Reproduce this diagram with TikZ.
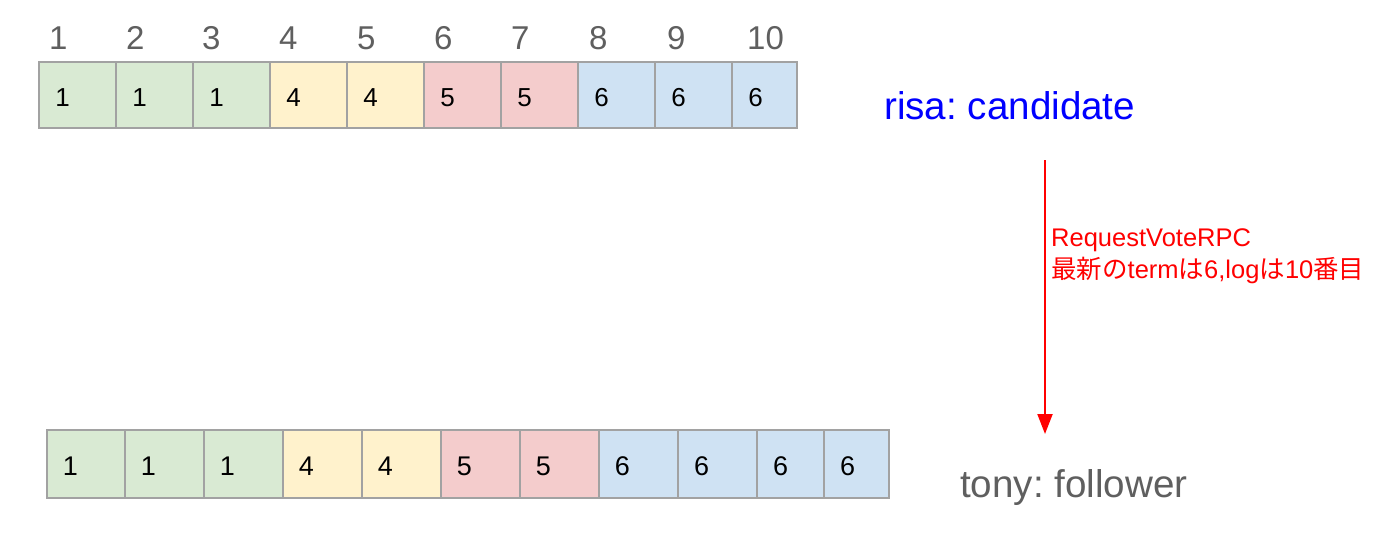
\documentclass[tikz,border=0pt]{standalone}
\usepackage{fontspec}
\setmainfont{Liberation Sans}
\newfontfamily\cjk{Noto Sans CJK JP}
\usetikzlibrary{arrows.meta}
\frenchspacing
\definecolor{cgreen}{HTML}{D9EAD3}
\definecolor{cyellow}{HTML}{FFF2CC}
\definecolor{cred}{HTML}{F4CCCC}
\definecolor{cblue}{HTML}{CFE2F3}
\definecolor{cborder}{HTML}{A2A2A2}
\definecolor{cgray}{HTML}{5F5F5F}
\definecolor{cbluetext}{HTML}{0000FF}
\definecolor{credtext}{HTML}{FF0000}
\tikzset{
  cellbox/.style={draw=cborder, line width=1.5pt, rectangle, inner sep=0pt, outer sep=0pt},
  celltext/.style={inner sep=0pt, text=black},
  toptext/.style={celltext, font=\fontsize{26}{30}\selectfont},
  bottext/.style={celltext, font=\fontsize{27}{31}\selectfont},
  idxtext/.style={inner sep=0pt, text=cgray, font=\fontsize{33}{38}\selectfont},
  nametext/.style={inner sep=0pt, font=\fontsize{38.6}{44}\selectfont},
  rpctext/.style={inner sep=0pt, text=credtext, font=\fontsize{25.5}{30}\selectfont},
  rpcarrow/.style={draw=credtext, line width=2pt, -{Triangle[width=15pt,length=20pt]}}
}
% name, x, y, w, h, fill, value, baseline offset, text style
\newcommand\logcell[9]{%
  \node[cellbox, fill=#6, minimum width=#4pt, minimum height=#5pt, anchor=north west] (#1) at (#2,#3) {};
  \node[#9, anchor=base] (#1v) at (#2+23.5,#3+#8) {#7};
}
\begin{document}
\begin{tikzpicture}[x=1pt,y=-1pt]
\useasboundingbox[fill=white] (0,0) rectangle (1400,546);
% index labels
\node[idxtext, anchor=base west] (i1) at (49,49) {1};
\node[idxtext, anchor=base west] (i2) at (126,49) {2};
\node[idxtext, anchor=base west] (i3) at (202,49) {3};
\node[idxtext, anchor=base west] (i4) at (279,49) {4};
\node[idxtext, anchor=base west] (i5) at (357,49) {5};
\node[idxtext, anchor=base west] (i6) at (434,49) {6};
\node[idxtext, anchor=base west] (i7) at (511,49) {7};
\node[idxtext, anchor=base west] (i8) at (589,49) {8};
\node[idxtext, anchor=base west] (i9) at (667,49) {9};
\node[idxtext, anchor=base west] (i10) at (747,49) {10};
% top log (risa)
\logcell{t1}{39}{62}{77}{66}{cgreen}{1}{44.7}{toptext}
\logcell{t2}{116}{62}{77}{66}{cgreen}{1}{44.7}{toptext}
\logcell{t3}{193}{62}{77}{66}{cgreen}{1}{44.7}{toptext}
\logcell{t4}{270}{62}{77}{66}{cyellow}{4}{44.7}{toptext}
\logcell{t5}{347}{62}{77}{66}{cyellow}{4}{44.7}{toptext}
\logcell{t6}{424}{62}{77}{66}{cred}{5}{44.7}{toptext}
\logcell{t7}{501}{62}{77}{66}{cred}{5}{44.7}{toptext}
\logcell{t8}{578}{62}{77}{66}{cblue}{6}{44.7}{toptext}
\logcell{t9}{655}{62}{77}{66}{cblue}{6}{44.7}{toptext}
\logcell{t10}{732}{62}{65}{66}{cblue}{6}{44.7}{toptext}
% bottom log (tony)
\logcell{b1}{47}{430}{78}{68}{cgreen}{1}{45}{bottext}
\logcell{b2}{125}{430}{79}{68}{cgreen}{1}{45}{bottext}
\logcell{b3}{204}{430}{79}{68}{cgreen}{1}{45}{bottext}
\logcell{b4}{283}{430}{79}{68}{cyellow}{4}{45}{bottext}
\logcell{b5}{362}{430}{79}{68}{cyellow}{4}{45}{bottext}
\logcell{b6}{441}{430}{79}{68}{cred}{5}{45}{bottext}
\logcell{b7}{520}{430}{79}{68}{cred}{5}{45}{bottext}
\logcell{b8}{599}{430}{79}{68}{cblue}{6}{45}{bottext}
\logcell{b9}{678}{430}{79}{68}{cblue}{6}{45}{bottext}
\logcell{b10}{757}{430}{67}{68}{cblue}{6}{45}{bottext}
\logcell{b11}{824}{430}{65}{68}{cblue}{6}{45}{bottext}
% names
\node[nametext, text=cbluetext, anchor=base west] (risa) at (884,119) {risa: candidate};
\node[nametext, text=cgray, anchor=base west] (tony) at (960,497) {tony: follower};
% arrow
\coordinate (arrS) at (1045,160);
\coordinate (arrE) at (1045,434);
\draw[rpcarrow] (arrS) -- (arrE);
\node[rpctext, anchor=base west] (rpc1) at (1051,246) {RequestVoteRPC};
\node[rpctext, anchor=base west] (rpc2) at (1051,278) {{\cjk 最新の}term{\cjk は}6,log{\cjk は}10{\cjk 番目}};
\end{tikzpicture}
\end{document}
